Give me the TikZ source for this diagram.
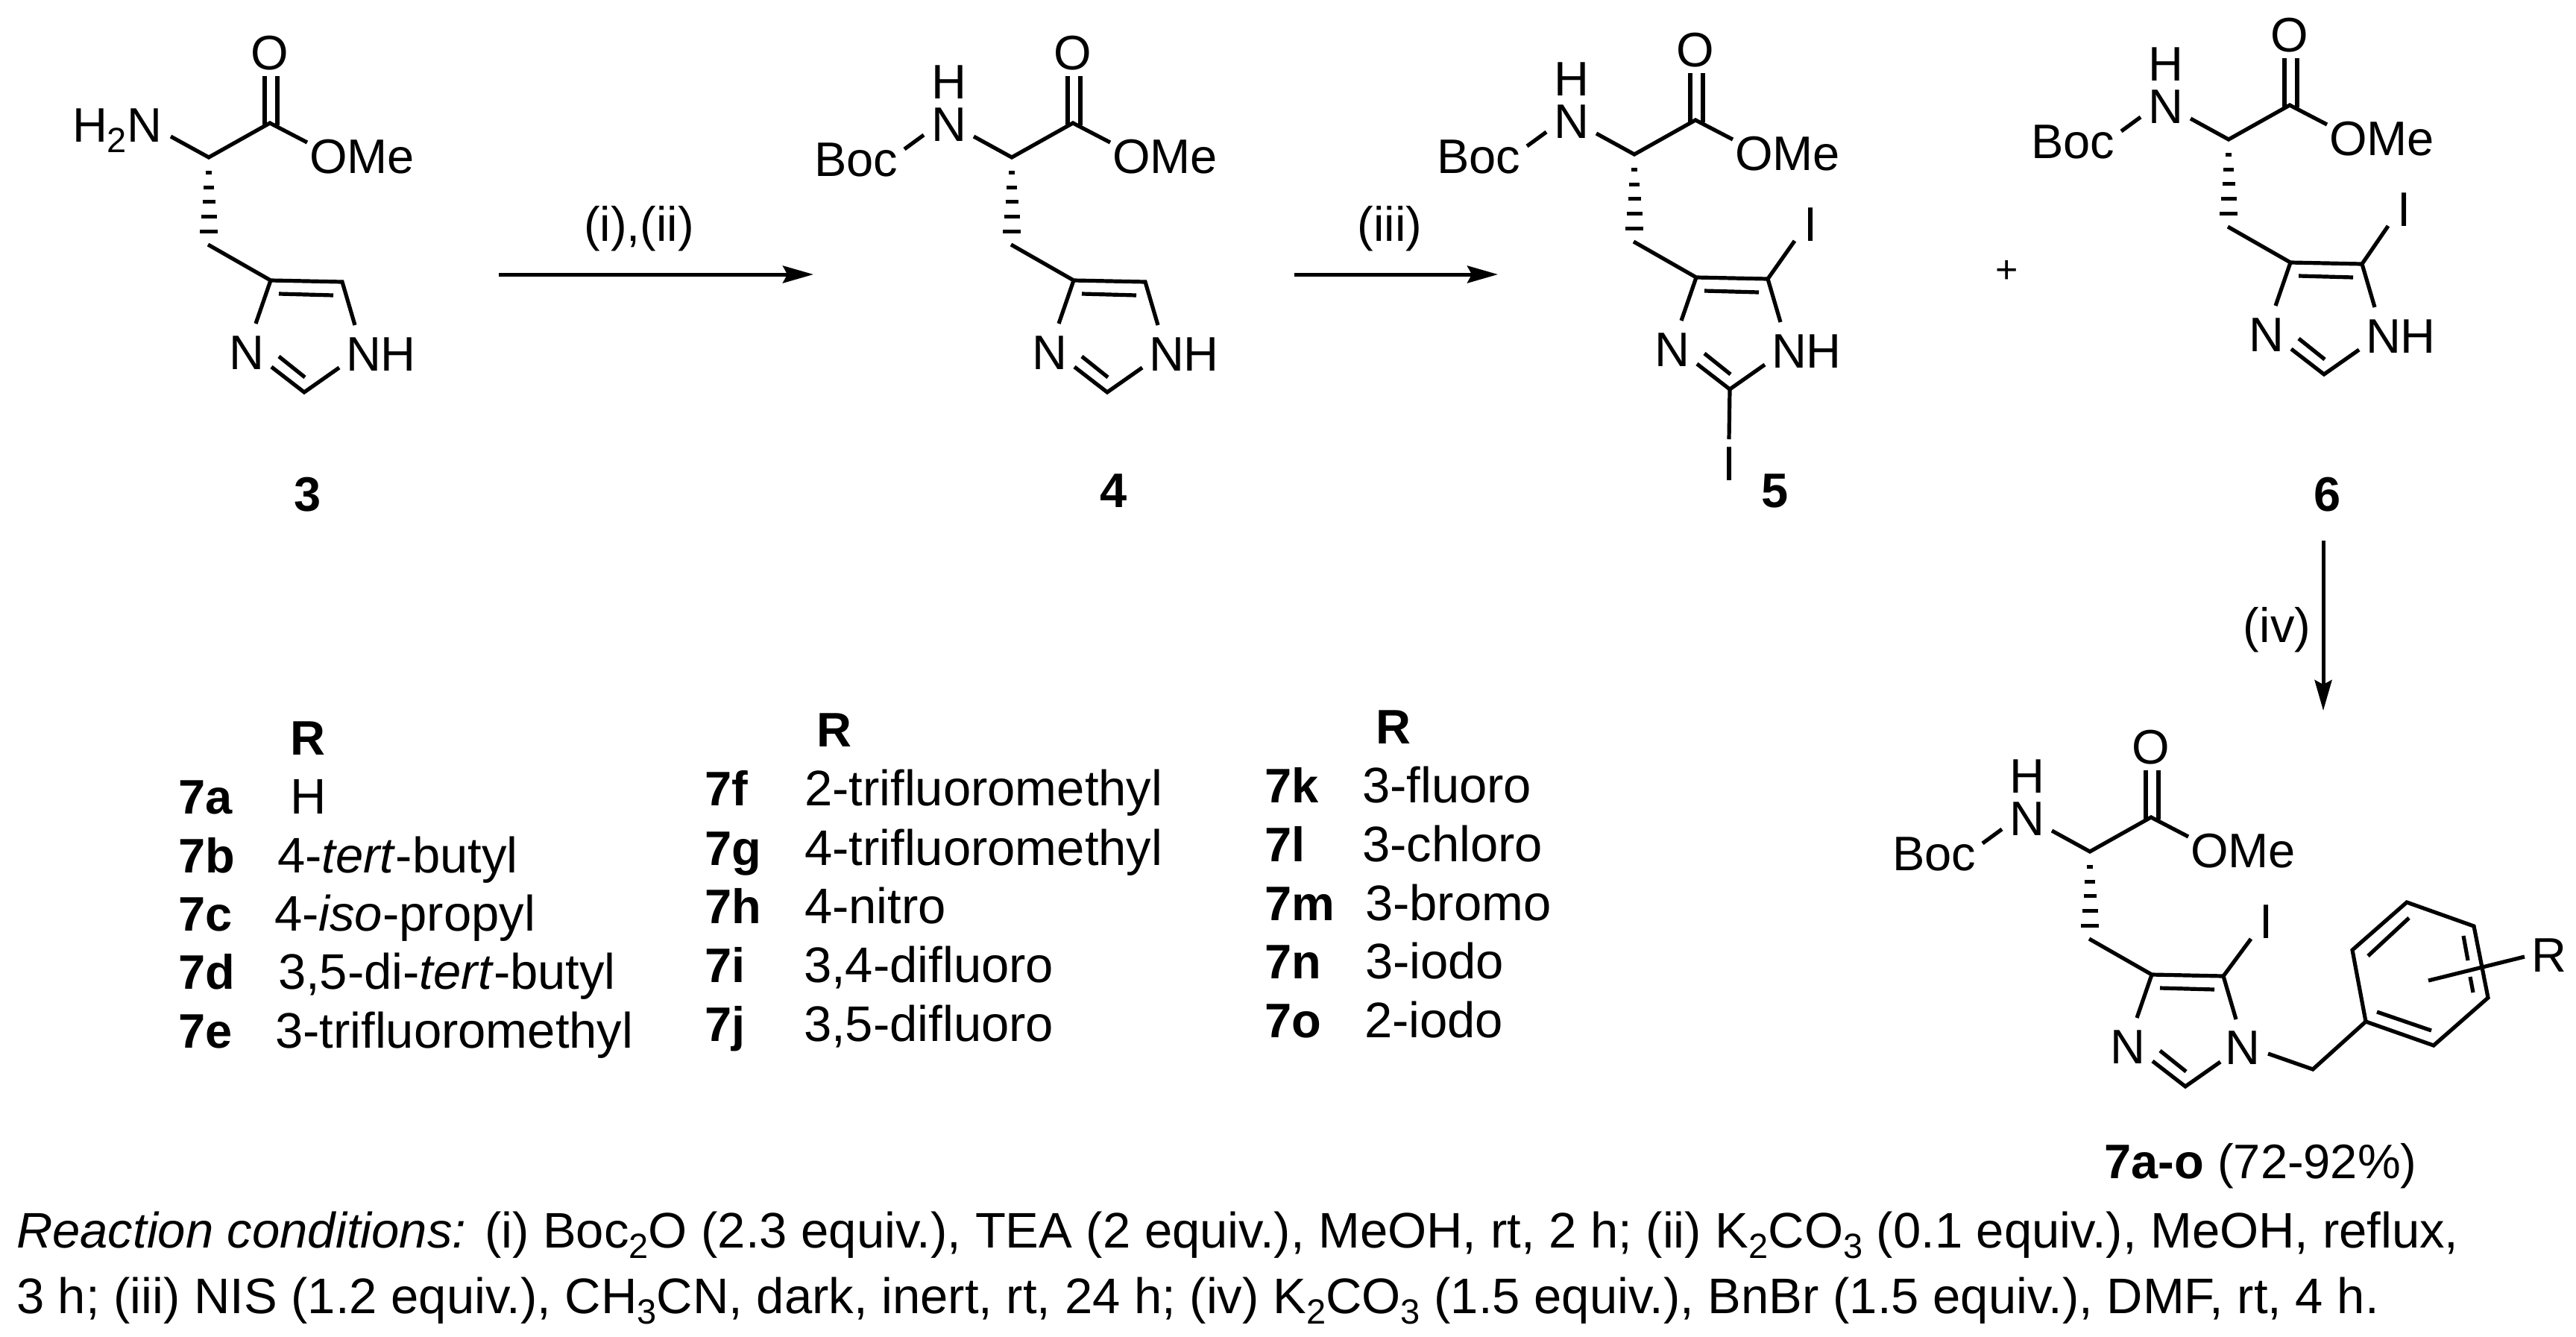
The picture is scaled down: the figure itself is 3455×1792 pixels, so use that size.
\documentclass[tikz,border=0pt]{standalone}
\usepackage{fontspec}
\setmainfont[Ligatures=NoCommon]{Liberation Sans}
\usetikzlibrary{arrows.meta}
\newcommand{\lowsub}[1]{\raisebox{-14pt}{\fontsize{47}{50}\selectfont #1}}
\tikzset{
  every node/.style={inner sep=0pt,outer sep=0pt},
  chemtext/.style={font=\fontsize{65}{70}\selectfont},
  chemlabel/.style={chemtext,anchor=base},
  leftlabel/.style={chemtext,anchor=base west},
  tablelabel/.style={font=\fontsize{67}{70}\selectfont,anchor=base west},
  boldlabel/.style={font=\fontsize{65}{70}\selectfont\bfseries,anchor=base},
  boldleft/.style={font=\fontsize{65}{70}\selectfont\bfseries,anchor=base west},
  bond/.style={line width=5.2pt,line join=miter},
  hashbar/.style={line width=5pt},
  rxnarrow/.style={line width=5pt,-{Stealth[length=41pt,width=23pt,inset=6pt]}},
  core/.pic={
    \coordinate (CO) at (362,165);
    \coordinate (CH) at (280,211);
    \coordinate (CHtwo) at (279,328);
    \coordinate (Cfour) at (363,376);
    \coordinate (Cfive) at (459,378);
    \coordinate (Ctwo) at (408,526);
    \coordinate (Nbond) at (229,183);
    \coordinate (Ombond) at (412,191);
    \coordinate (Oa) at (355,102);
    \coordinate (Oaa) at (355,168);
    \coordinate (Ob) at (372,102);
    \coordinate (Obb) at (372,168);
    \coordinate (Nthree) at (343,434);
    \coordinate (None) at (476,436);
    \coordinate (NthreeB) at (364,492);
    \coordinate (NoneB) at (455,493);
    \coordinate (Ia) at (374,394);
    \coordinate (Ib) at (447,396);
    \coordinate (Ic) at (374,478);
    \coordinate (Id) at (409,506);
    \node[chemlabel] (Olab) at (362,93) {O};
    \node[leftlabel] (OMe) at (415,232) {OMe};
    \node[chemlabel] (Nlab) at (331,495) {N};
    \draw[bond] (Nbond) -- (CH) -- (CO) -- (Ombond);
    \draw[bond] (Oa) -- (Oaa);
    \draw[bond] (Ob) -- (Obb);
    \foreach \hy/\hw in {231/4,251/7,270/8.5,290/10.5,310/12}
      \draw[hashbar] (280-\hw,\hy) -- (280+\hw,\hy);
    \draw[bond] (CHtwo) -- (Cfour) -- (Cfive) -- (None);
    \draw[bond] (Cfour) -- (Nthree);
    \draw[bond] (NthreeB) -- (Ctwo) -- (NoneB);
    \draw[bond] (Ia) -- (Ib);
    \draw[bond] (Ic) -- (Id);
  },
  ringnh/.pic={\node[leftlabel] (NHlab) at (464,497) {NH};},
  bocnh/.pic={
    \coordinate (Ba) at (136,200);
    \coordinate (Bb) at (162,181);
    \node[leftlabel] (Boc) at (15,236) {Boc};
    \node[font=\fontsize{65}{57}\selectfont,align=center,anchor=south] (NHstack) at (196,189) {H\\N};
    \draw[bond] (Ba) -- (Bb);
  },
}
\begin{document}
\begin{tikzpicture}[x=1pt,y=-1pt]
\useasboundingbox (0,0) rectangle (3455,1792);
\fill[white] (0,0) rectangle (3455,1792);

% compound 3
\pic (sthree) at (0,0) {core};
\pic (sthree) at (0,0) {ringnh};
\node[leftlabel] (amine) at (97,190) {H\lowsub{2}N};
\node[boldlabel] (cthree) at (413,685) {3};

% compound 4
\pic (sfour) at (1077,0) {core};
\pic (sfour) at (1077,0) {ringnh};
\pic (sfour) at (1077,0) {bocnh};
\node[boldlabel] (cfour) at (1494,680) {4};

% compound 5
\pic (sfive) at (1912,-4) {core};
\pic (sfive) at (1912,-4) {ringnh};
\pic (sfive) at (1912,-4) {bocnh};
\coordinate (fivea) at (2407,323);
\coordinate (fiveb) at (2319,589);
\node[chemlabel] (fiveIa) at (2428,323) {I};
\node[chemlabel] (fiveIb) at (2319,644) {I};
\draw[bond] (sfiveCfive) -- (fivea);
\draw[bond] (sfiveCtwo) -- (fiveb);
\node[boldlabel] (cfive) at (2381,680) {5};

% plus
\node[font=\fontsize{52}{56}\selectfont] (plus) at (2692,364) {+};

% compound 6
\pic (ssix) at (2709,-24) {core};
\pic (ssix) at (2709,-24) {ringnh};
\pic (ssix) at (2709,-24) {bocnh};
\coordinate (sixa) at (3203,303);
\node[chemlabel] (sixI) at (3224,303) {I};
\draw[bond] (ssixCfive) -- (sixa);
\node[boldlabel] (csix) at (3122,685) {6};

% compound 7
\pic (sseven) at (2523,931) {core};
\pic (sseven) at (2523,931) {bocnh};
\coordinate (sevena) at (3019,1259);
\node[chemlabel] (sevenI) at (3039,1258) {I};
\draw[bond] (ssevenCfive) -- (sevena);
\node[chemlabel] (sevenN) at (3008,1427) {N};
\coordinate (bna) at (3042,1413);
\coordinate (bnb) at (3102,1434);
\coordinate (ra) at (3173,1370);
\coordinate (rb) at (3264,1402);
\coordinate (rc) at (3337,1338);
\coordinate (rd) at (3318,1242);
\coordinate (re) at (3228,1210);
\coordinate (rf) at (3155,1274);
\draw[bond] (bna) -- (bnb) -- (ra);
\draw[bond,line join=miter] (ra) -- (rb) -- (rc) -- (rd) -- (re) -- (rf) -- cycle;
\coordinate (ina) at (3188,1357);
\coordinate (inb) at (3261,1382);
\coordinate (inc) at (3304,1255);
\coordinate (ind) at (3310,1288);
\coordinate (ine) at (3313,1310);
\coordinate (inf) at (3317,1331);
\coordinate (ing) at (3176,1282);
\coordinate (inh) at (3231,1231);
\draw[bond] (ina) -- (inb);
\draw[bond] (inc) -- (ind);
\draw[bond] (ine) -- (inf);
\draw[bond] (ing) -- (inh);
\coordinate (suba) at (3257,1315);
\coordinate (subb) at (3386,1283);
\draw[bond] (suba) -- (subb);
\node[leftlabel] (sevenR) at (3395,1303) {R};
\node[chemtext,anchor=base] (cseven) at (3032,1580) {\textbf{7a-o} (72-92\%)};

% arrows
\coordinate (aa) at (669,368);
\coordinate (ab) at (1091,368);
\coordinate (ba) at (1736,368);
\coordinate (bb) at (2009,368);
\coordinate (ca) at (3116,725);
\coordinate (cb) at (3116,953);
\draw[rxnarrow] (aa) -- (ab);
\draw[rxnarrow] (ba) -- (bb);
\draw[rxnarrow] (ca) -- (cb);
\node[chemlabel] (cond1) at (857,323) {(i),(ii)};
\node[chemlabel] (cond2) at (1864,323) {(iii)};
\node[chemlabel] (cond3) at (3054,861) {(iv)};

% table column 1
\node[boldleft] (Ra) at (389,1012) {R};
\node[boldleft] (la) at (239,1091) {7a};
\node[tablelabel] (ta) at (389,1091) {H};
\node[boldleft] (lb) at (239,1170) {7b};
\node[tablelabel] (tb) at (372,1170) {4-\textit{tert}-butyl};
\node[boldleft] (lc) at (239,1248) {7c};
\node[tablelabel] (tc) at (368,1248) {4-\textit{iso}-propyl};
\node[boldleft] (ld) at (239,1326) {7d};
\node[tablelabel] (td) at (373,1326) {3,5-di-\textit{tert}-butyl};
\node[boldleft] (le) at (239,1405) {7e};
\node[tablelabel] (te) at (369,1405) {3-trifluoromethyl};

% table column 2
\node[boldleft] (Rb) at (1095,1001) {R};
\node[boldleft] (lf) at (945,1080) {7f};
\node[tablelabel] (tf) at (1079,1080) {2-trifluoromethyl};
\node[boldleft] (lg) at (945,1160) {7g};
\node[tablelabel] (tg) at (1079,1160) {4-trifluoromethyl};
\node[boldleft] (lh) at (945,1238) {7h};
\node[tablelabel] (th) at (1079,1238) {4-nitro};
\node[boldleft] (li) at (945,1317) {7i};
\node[tablelabel] (ti) at (1078,1317) {3,4-difluoro};
\node[boldleft] (lj) at (945,1396) {7j};
\node[tablelabel] (tj) at (1078,1396) {3,5-difluoro};

% table column 3
\node[boldleft] (Rc) at (1845,997) {R};
\node[boldleft] (lk) at (1696,1076) {7k};
\node[tablelabel] (tk) at (1827,1076) {3-fluoro};
\node[boldleft] (ll) at (1696,1155) {7l};
\node[tablelabel] (tl) at (1827,1155) {3-chloro};
\node[boldleft] (lm) at (1696,1234) {7m};
\node[tablelabel] (tm) at (1831,1234) {3-bromo};
\node[boldleft] (ln) at (1696,1312) {7n};
\node[tablelabel] (tn) at (1831,1312) {3-iodo};
\node[boldleft] (lo) at (1696,1391) {7o};
\node[tablelabel] (to) at (1830,1391) {2-iodo};

% conditions
\node[tablelabel] (lineone) at (22,1673) {\textit{Reaction conditions:} (i) Boc\lowsub{2}O (2.3 equiv.), TEA (2 equiv.), MeOH, rt, 2 h; (ii) K\lowsub{2}CO\lowsub{3} (0.1 equiv.), MeOH, reflux,};
\node[tablelabel] (linetwo) at (22,1761) {3 h; (iii) NIS (1.2 equiv.), CH\lowsub{3}CN, dark, inert, rt, 24 h; (iv) K\lowsub{2}CO\lowsub{3} (1.5 equiv.), BnBr (1.5 equiv.), DMF, rt, 4 h.};
\end{tikzpicture}
\end{document}
